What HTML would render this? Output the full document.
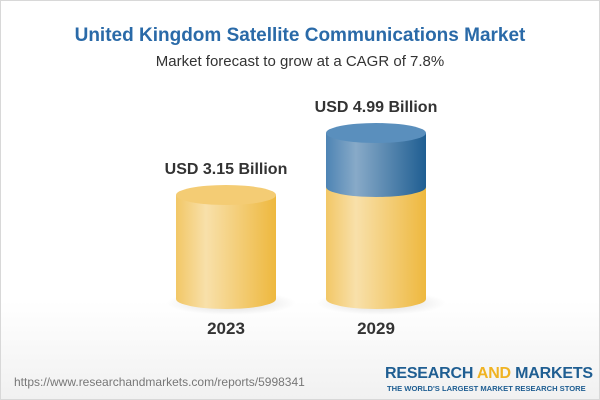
<!DOCTYPE html>
<html><head><style>
body{margin:0}
.w{position:relative;width:598px;height:398px;border:1px solid #d8d8d8;background:linear-gradient(#fff 0,#fff 300px,#f1f1f1 398px);font-family:"Liberation Sans",Arial,sans-serif;overflow:hidden}
.t{position:absolute;left:0;width:598px;text-align:center}
</style></head><body><div class="w">
<div class="t" style="top:24px;font-size:19px;font-weight:bold;color:#2a6aa8">United Kingdom Satellite Communications Market</div>
<div class="t" style="top:52px;font-size:15px;color:#333">Market forecast to grow at a CAGR of 7.8%</div>
<svg width="598" height="398" style="position:absolute;left:0;top:0">
<defs>
<linearGradient id="y" x1="0" x2="1"><stop offset="0" stop-color="#f2c766"/><stop offset=".3" stop-color="#f8e0aa"/><stop offset="1" stop-color="#eeb83e"/></linearGradient>
<linearGradient id="b" x1="0" x2="1"><stop offset="0" stop-color="#4d84b4"/><stop offset=".3" stop-color="#88aac8"/><stop offset="1" stop-color="#1f5e92"/></linearGradient>
<radialGradient id="s"><stop offset="0" stop-color="#000" stop-opacity=".15"/><stop offset="1" stop-color="#000" stop-opacity="0"/></radialGradient>
</defs>
<ellipse cx="230" cy="302" rx="65" ry="12" fill="url(#s)"/>
<ellipse cx="380" cy="302" rx="65" ry="12" fill="url(#s)"/>
<path d="M175 194 V298 A50 10 0 0 0 275 298 V194 Z" fill="url(#y)"/>
<ellipse cx="225" cy="194" rx="50" ry="10" fill="#f4cc74"/>
<path d="M325 186 V298 A50 10 0 0 0 425 298 V186 Z" fill="url(#y)"/>
<path d="M325 132 V186 A50 10 0 0 0 425 186 V132 Z" fill="url(#b)"/>
<ellipse cx="375" cy="132" rx="50" ry="10" fill="#5a8fbd"/>
</svg>
<div class="t" style="top:160px;left:-74px;font-size:16px;font-weight:bold;color:#333">USD 3.15 Billion</div>
<div class="t" style="top:98px;left:76px;font-size:16px;font-weight:bold;color:#333">USD 4.99 Billion</div>
<div class="t" style="top:318px;left:-74px;font-size:17px;font-weight:bold;color:#333">2023</div>
<div class="t" style="top:318px;left:76px;font-size:17px;font-weight:bold;color:#333">2029</div>
<div style="position:absolute;left:13px;top:374px;font-size:12px;color:#777">https://www.researchandmarkets.com/reports/5998341</div>
<div style="position:absolute;left:384px;top:364px;font-size:16px;font-weight:bold;color:#1f5e92;letter-spacing:-.2px">RESEARCH <span style="color:#f0b323">AND</span> MARKETS</div>
<div style="position:absolute;left:386px;top:383px;font-size:7.6px;font-weight:bold;color:#1f5e92">THE WORLD'S LARGEST MARKET RESEARCH STORE</div>
</div></body></html>
